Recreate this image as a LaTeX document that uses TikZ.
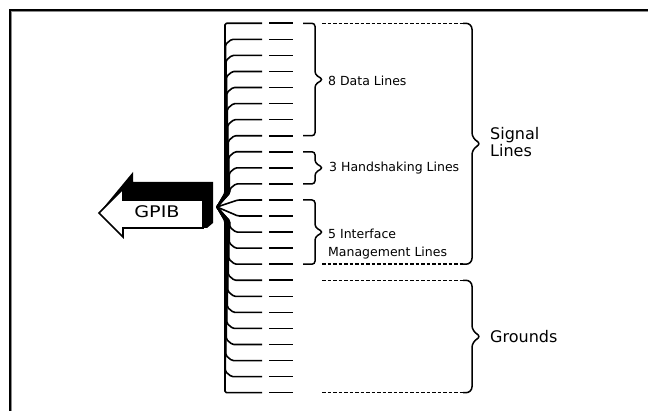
\documentclass[tikz,border=0pt]{standalone}
\usepackage{fontspec}
\setmainfont{DejaVu Sans}
\begin{document}
\begin{tikzpicture}[x=1pt,y=-1pt,
  wire/.style={line width=1.6pt, line join=round, rounded corners=1.5pt},
  stub/.style={line width=1.6pt},
  bracestyle/.style={line width=1.5pt, rounded corners=3pt},
  bigbrace/.style={line width=1.5pt, rounded corners=6pt},
  dashrule/.style={line width=1.5pt, dash pattern=on 3.5pt off 2pt},
  smalllabel/.style={anchor=base west, inner sep=0pt, font=\fontsize{12.5}{14}\selectfont},
  biglabel/.style={anchor=base west, inner sep=0pt, font=\fontsize{16}{18}\selectfont},
]
\useasboundingbox (0,0) rectangle (648,411);

% window frame: dark edge with a grey inner line
\draw[line width=2pt] (10,411) -- (10,10) -- (648,10);
\draw[black!45, line width=1pt] (11.5,411) -- (11.5,11.5) -- (648,11.5);

% GPIB block arrow: black extrusion behind a white face
\fill (99,213) -- (133,172) -- (133,182) -- (213,182) -- (213,223) -- (207,228) -- (203,228) -- cycle;
\draw[fill=white, line width=1.6pt, line join=miter]
  (99,213) -- (123,189) -- (123,200) -- (203,200) -- (203,228) -- (123,228) -- (123,237) -- cycle;
\node (gpib) at (157,218) [anchor=base, inner sep=0pt, font=\fontsize{16}{18}\selectfont] {\scalebox{1.2}[1]{GPIB}};

% the 24 bus wires fanning out from the cable end
\coordinate (hub) at (217,207);
\foreach \i in {0,...,23}{
  \pgfmathsetmacro\yy{23.3+16.06*\i}
  \pgfmathsetmacro\dy{\yy-207}
  \pgfmathsetmacro\sg{sign(\dy)}
  \pgfmathsetmacro\ady{abs(\dy)}
  \pgfmathtruncatemacro\near{\ady<17 ? 1 : 0}
  \pgfmathsetmacro\jog{(\i==0 || \i==23) ? 0 : 5}
  \ifnum\near=1
    \draw[wire] (hub) -- (238,\yy) -- (262,\yy);
  \else
    \pgfmathsetmacro\xv{225+5*(1-(\ady-17)/167)}
    \draw[wire] (hub) -- (\xv,207+\sg*14) -- (\xv,\yy-\sg*\jog) -- (\xv+6,\yy) -- (262,\yy);
  \fi
  \draw[stub] (269,\yy) -- (293,\yy);
}

% small group braces
\draw[bracestyle] (303,23.3) -- (315,23.3) -- (315,74.5) -- (323,79.5) -- (315,84.5) -- (315,135.7) -- (303,135.7);
\draw[bracestyle] (303,151.8) -- (315,151.8) -- (315,162.8) -- (323,167.8) -- (315,172.8) -- (315,183.9) -- (303,183.9);
\draw[bracestyle] (303,200) -- (315,200) -- (315,227.1) -- (323,232.1) -- (315,237.1) -- (315,264.2) -- (303,264.2);

\node[smalllabel] (datalbl) at (328,86) {8 Data Lines};
\node[smalllabel] (hslbl) at (329,172) {3 Handshaking Lines};
\node[smalllabel] (iflbl) at (328,239) {5 Interface};
\node[smalllabel] (mglbl) at (328,256.5) {Management Lines};

% signal lines brace
\draw[dashrule] (322,23.3) -- (463,23.3);
\draw[dashrule] (322,264.2) -- (463,264.2);
\draw[bigbrace] (463,23.3) -- (472,23.3) -- (472,138.7) -- (482,143.7) -- (472,148.7) -- (472,264.2) -- (463,264.2);
\node[biglabel] (siglbl) at (490,139.5) {Signal};
\node[biglabel] (linlbl) at (490,156.5) {Lines};

% grounds brace
\draw[dashrule] (322,280.3) -- (463,280.3);
\draw[dashrule] (322,392.7) -- (463,392.7);
\draw[bigbrace] (463,280.3) -- (472,280.3) -- (472,331.5) -- (482,336.5) -- (472,341.5) -- (472,392.7) -- (463,392.7);
\node[biglabel] (gndlbl) at (490,343) {Grounds};
\end{tikzpicture}
\end{document}
